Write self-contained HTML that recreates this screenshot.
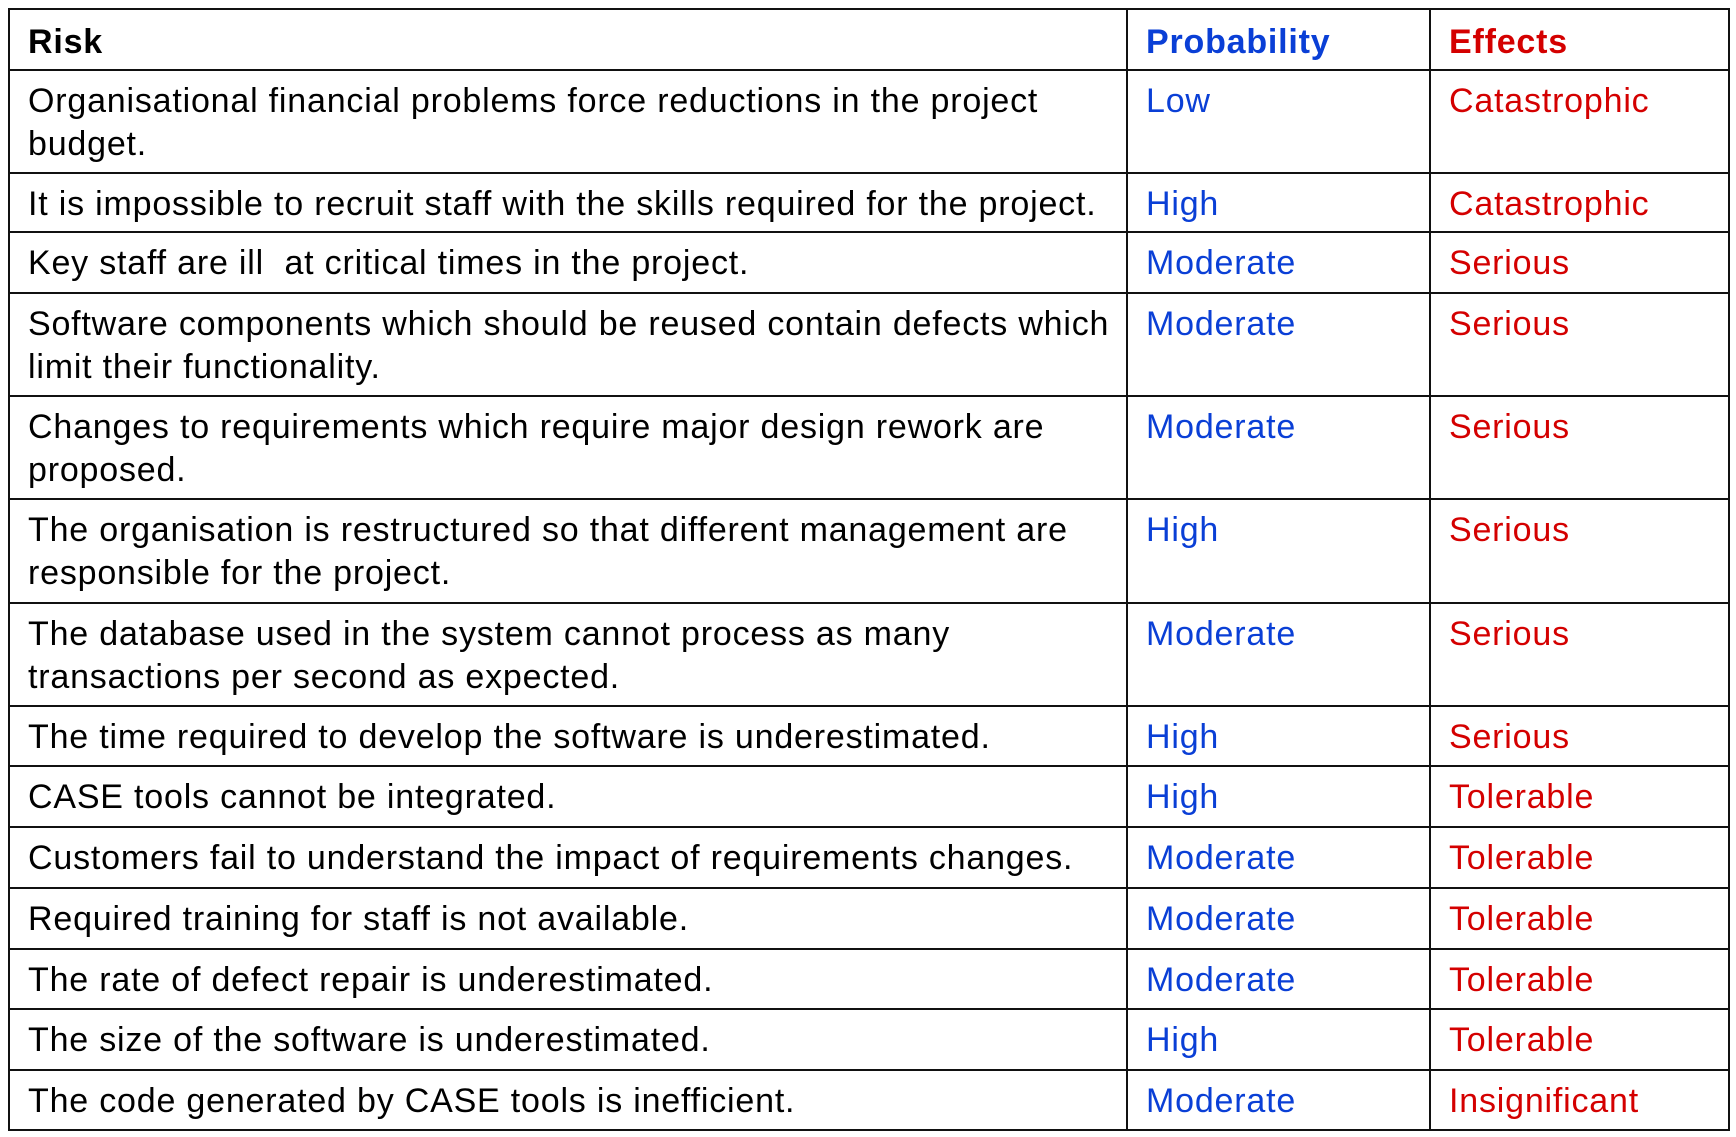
<!DOCTYPE html>
<html><head><meta charset="utf-8"><style>
html,body{margin:0;padding:0;background:#fff;width:1736px;height:1137px;overflow:hidden}
table{position:absolute;left:8px;top:8px;border-collapse:collapse;table-layout:fixed;width:1720px;
font-family:"Liberation Sans","DejaVu Sans",sans-serif;font-size:34px;letter-spacing:0.8px;color:#000}
td,th{border:2.5px solid #111;vertical-align:top;padding:9px 4px 0 18px;line-height:43px;text-align:left;overflow:hidden;white-space:nowrap}
th{font-weight:bold;padding-top:11px}
.p{color:#0a3fd6}.e{color:#d40000}
</style></head><body>
<table>
<colgroup><col style="width:1118px"><col style="width:303px"><col style="width:299px"></colgroup>
<tr style="height:61px"><th>Risk</th><th class="p">Probability</th><th class="e">Effects</th></tr>
<tr style="height:103px"><td>Organisational financial problems force reductions in the project<br>budget.</td><td class="p">Low</td><td class="e">Catastrophic</td></tr>
<tr style="height:59px"><td>It is impossible to recruit staff with the skills required for the project.</td><td class="p">High</td><td class="e">Catastrophic</td></tr>
<tr style="height:61px"><td>Key staff are ill&nbsp; at critical times in the project.</td><td class="p">Moderate</td><td class="e">Serious</td></tr>
<tr style="height:103px"><td>Software components which should be reused contain defects which<br>limit their functionality.</td><td class="p">Moderate</td><td class="e">Serious</td></tr>
<tr style="height:103px"><td>Changes to requirements which require major design rework are<br>proposed.</td><td class="p">Moderate</td><td class="e">Serious</td></tr>
<tr style="height:104px"><td>The organisation is restructured so that different management are<br>responsible for the project.</td><td class="p">High</td><td class="e">Serious</td></tr>
<tr style="height:103px"><td>The database used in the system cannot process as many<br>transactions per second as expected.</td><td class="p">Moderate</td><td class="e">Serious</td></tr>
<tr style="height:60px"><td>The time required to develop the software is underestimated.</td><td class="p">High</td><td class="e">Serious</td></tr>
<tr style="height:61px"><td>CASE tools cannot be integrated.</td><td class="p">High</td><td class="e">Tolerable</td></tr>
<tr style="height:61px"><td>Customers fail to understand the impact of requirements changes.</td><td class="p">Moderate</td><td class="e">Tolerable</td></tr>
<tr style="height:61px"><td>Required training for staff is not available.</td><td class="p">Moderate</td><td class="e">Tolerable</td></tr>
<tr style="height:60px"><td>The rate of defect repair is underestimated.</td><td class="p">Moderate</td><td class="e">Tolerable</td></tr>
<tr style="height:61px"><td>The size of the software is underestimated.</td><td class="p">High</td><td class="e">Tolerable</td></tr>
<tr style="height:60px"><td>The code generated by CASE tools is inefficient.</td><td class="p">Moderate</td><td class="e">Insignificant</td></tr>
</table>
</body></html>
